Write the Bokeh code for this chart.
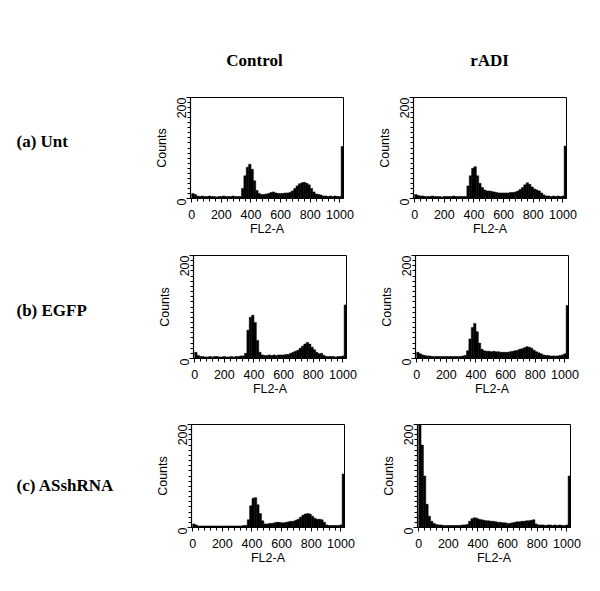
import math
from bokeh.plotting import figure
from bokeh.models import Range1d, FixedTicker
from bokeh.layouts import column, row
from bokeh.embed import file_html
from bokeh.resources import INLINE
from bokeh.core.properties import value

# ---------------- data ----------------
col_titles = ["Control", "rADI"]
row_titles = ["(a) Unt", "(b) EGFP", "(c) ASshRNA"]
x_label = "FL2-A"
y_label = "Counts"
x_ticks = [0, 200, 400, 600, 800, 1000]
y_ticks = [0, 200]
bin_width = 16
bin_edges = list(range(0, 1024, 16))   # 64 channel bins of FL2-A

ctrl_unt = [10, 8, 5, 4, 5, 4, 4, 5, 4, 4, 3, 4, 4, 5, 4, 4,
            4, 5, 4, 4, 4, 20, 45, 62, 68, 58, 35, 16, 10, 8, 8, 9,
            10, 12, 13, 11, 10, 10, 10, 11, 11, 12, 15, 20, 25, 29, 31, 32,
            30, 27, 20, 13, 9, 8, 7, 5, 5, 4, 5, 4, 5, 4, 4, 103]
radi_unt = [8, 6, 5, 5, 4, 4, 4, 5, 4, 4, 4, 3, 4, 4, 4, 4,
            5, 4, 4, 4, 4, 4, 25, 45, 60, 63, 45, 30, 22, 17, 15, 15,
            14, 13, 12, 11, 11, 11, 11, 11, 12, 12, 13, 15, 18, 22, 27, 31,
            28, 23, 19, 17, 15, 11, 7, 5, 5, 4, 5, 4, 5, 4, 5, 104]
ctrl_egfp = [12, 6, 4, 4, 3, 3, 4, 3, 4, 4, 3, 3, 4, 3, 3, 4,
             3, 4, 4, 5, 5, 10, 55, 80, 84, 70, 35, 12, 7, 6, 6, 7,
             6, 7, 6, 7, 7, 7, 8, 8, 10, 12, 14, 16, 20, 24, 28, 31,
             28, 22, 17, 12, 9, 10, 6, 4, 4, 4, 4, 3, 4, 4, 5, 104]
radi_egfp = [12, 9, 7, 6, 5, 5, 4, 4, 4, 4, 4, 4, 4, 4, 4, 4,
             4, 4, 4, 5, 6, 15, 38, 60, 68, 52, 30, 18, 15, 14, 14, 13,
             14, 13, 13, 12, 12, 12, 12, 13, 14, 15, 16, 18, 19, 21, 23, 22,
             20, 16, 13, 11, 9, 7, 6, 6, 5, 5, 5, 5, 6, 7, 9, 103]
ctrl_ash = [7, 5, 3, 3, 3, 3, 3, 3, 3, 3, 3, 3, 3, 3, 3, 3,
            3, 3, 3, 3, 3, 4, 4, 15, 42, 57, 58, 44, 27, 13, 7, 7,
            8, 8, 9, 10, 10, 9, 9, 10, 11, 12, 12, 14, 16, 20, 24, 26,
            27, 26, 22, 18, 16, 16, 15, 10, 5, 4, 4, 4, 4, 4, 5, 104]
radi_ash = [200, 160, 100, 45, 22, 12, 8, 6, 5, 5, 4, 4, 4, 4, 4, 4,
            4, 4, 5, 5, 6, 12, 17, 19, 18, 16, 15, 14, 13, 13, 12, 12,
            11, 10, 10, 9, 9, 8, 8, 9, 10, 11, 11, 12, 12, 13, 13, 14,
            15, 7, 5, 5, 5, 4, 5, 5, 4, 5, 4, 5, 4, 4, 5, 100]

grid_counts = [[ctrl_unt, radi_unt], [ctrl_egfp, radi_egfp], [ctrl_ash, radi_ash]]

# ---------------- layout (pixels) ----------------
FW = 153
HEADER_H = 80
frame_h = [101, 103, 103]
top_b = [17, 17, 26]
bot_b = 40
label_w = [142, 145, 143]
left_b = 48
mid_r = 20
right_l = [50, 49, 53]
right_r = 14
label_y = [69, 86, 100]
SERIF = "Liberation Serif"
SANS = "Liberation Sans"


def style_axis(ax):
    ax.axis_line_color = "black"
    ax.axis_line_width = 1.2
    ax.major_tick_in = 0
    ax.major_tick_out = 4
    ax.minor_tick_in = 0
    ax.minor_tick_out = 3
    ax.major_tick_line_color = "black"
    ax.minor_tick_line_color = "black"
    ax.major_label_text_font = SANS
    ax.major_label_text_font_size = "12.5px"
    ax.major_label_text_color = "black"
    ax.axis_label_text_font = SANS
    ax.axis_label_text_font_style = "normal"
    ax.axis_label_text_font_size = "12.5px"
    ax.axis_label_text_color = "black"


def make_panel(counts, bl, br, bt, fh):
    p = figure(width=bl + FW + br, height=bt + fh + bot_b,
               x_range=Range1d(-8, 1024), y_range=Range1d(0, 200),
               output_backend="svg", toolbar_location=None,
               min_border_left=bl, min_border_right=br,
               min_border_top=bt, min_border_bottom=bot_b,
               x_axis_label=x_label, y_axis_label=y_label)
    p.vbar(x=[e + bin_width / 2 for e in bin_edges], width=bin_width,
           bottom=0, top=counts, fill_color="black", line_color="black",
           line_width=0.5)
    p.grid.visible = False
    p.outline_line_color = "black"
    p.outline_line_width = 1
    p.background_fill_color = "white"
    p.border_fill_color = "white"
    xa = p.xaxis[0]
    ya = p.yaxis[0]
    xa.ticker = FixedTicker(ticks=x_ticks, minor_ticks=list(range(0, 1024, 40)))
    ya.ticker = FixedTicker(ticks=y_ticks, minor_ticks=list(range(0, 201, 10)))
    style_axis(xa)
    style_axis(ya)
    ya.major_label_orientation = math.pi / 2
    xa.major_label_standoff = 7
    xa.axis_label_standoff = 0
    ya.major_label_standoff = 5
    ya.axis_label_standoff = 1
    return p


def text_fig(w, h, xs, ys, texts, size):
    f = figure(width=w, height=h, x_range=Range1d(0, w), y_range=Range1d(h, 0),
               output_backend="svg", toolbar_location=None,
               x_axis_type=None, y_axis_type=None, min_border=0)
    f.grid.visible = False
    f.outline_line_color = None
    f.background_fill_color = "white"
    f.border_fill_color = "white"
    f.text(x=xs, y=ys, text=texts, text_font=value(SERIF), text_font_style="bold",
           text_font_size=size, text_baseline="middle", text_align="center",
           text_color="black")
    return f


header = text_fig(584, HEADER_H, [254, 489], [60, 60], col_titles, "17px")

rows = []
for i in range(3):
    H = top_b[i] + frame_h[i] + bot_b
    lab = figure(width=label_w[i], height=H, x_range=Range1d(0, label_w[i]),
                 y_range=Range1d(H, 0), output_backend="svg", toolbar_location=None,
                 x_axis_type=None, y_axis_type=None, min_border=0)
    lab.grid.visible = False
    lab.outline_line_color = None
    lab.text(x=[16], y=[label_y[i]], text=[row_titles[i]], text_font=value(SERIF),
             text_font_style="bold", text_font_size="17px", text_baseline="middle",
             text_align="left", text_color="black")
    pl = make_panel(grid_counts[i][0], left_b, mid_r, top_b[i], frame_h[i])
    pr = make_panel(grid_counts[i][1], right_l[i], right_r, top_b[i], frame_h[i])
    rows.append(row(lab, pl, pr))

layout = column(header, *rows)
open("out.html", "w").write(file_html(layout, INLINE))
